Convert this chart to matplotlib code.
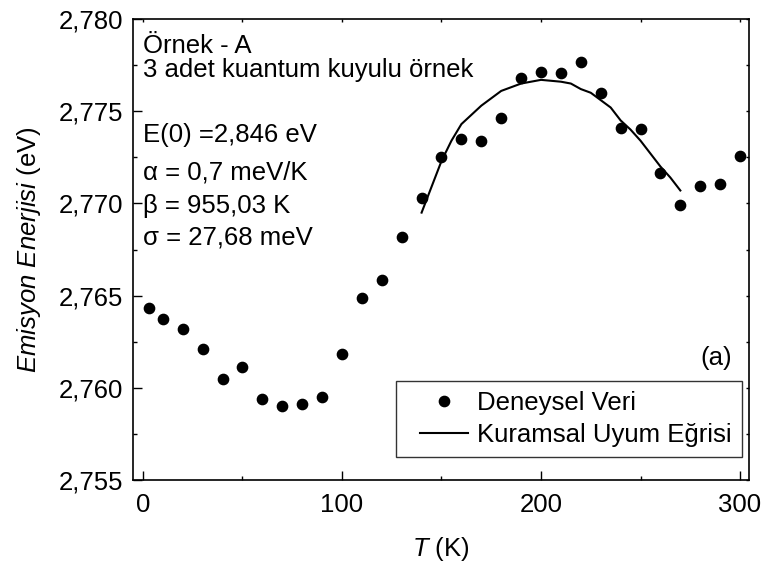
import matplotlib
matplotlib.use("Agg")
import matplotlib.pyplot as plt
from matplotlib.ticker import MultipleLocator
from matplotlib.legend_handler import HandlerLine2D

plt.rcParams['font.family'] = ['Liberation Sans', 'DejaVu Sans']
plt.rcParams['mathtext.fontset'] = 'custom'
plt.rcParams['mathtext.rm'] = 'Liberation Sans'
plt.rcParams['mathtext.it'] = 'Liberation Sans:italic'

# Experimental data (T in K, E in eV)
T_exp = [3, 10, 20, 30, 40, 50, 60, 70, 80, 90, 100, 110, 120, 130, 140, 150,
         160, 170, 180, 190, 200, 210, 220, 230, 240, 250, 260, 270, 280, 290, 300]
E_exp = [2.76434, 2.76371, 2.76317, 2.76209, 2.76049, 2.76111, 2.75938, 2.75901,
         2.75912, 2.75952, 2.76183, 2.76489, 2.76585, 2.76819, 2.77031, 2.77253,
         2.77347, 2.77338, 2.77461, 2.77678, 2.77714, 2.77705, 2.77767, 2.77597,
         2.77411, 2.77405, 2.77163, 2.76991, 2.77096, 2.77105, 2.77259]

# Fit curve
T_fit = [140, 145, 150, 155, 160, 165, 170, 175, 180, 185, 190, 200, 210, 215, 220,
         225, 230, 235, 240, 245, 250, 255, 260, 265, 270]
E_fit = [2.7695, 2.7709, 2.7723, 2.7734, 2.7743, 2.7748, 2.7753, 2.7757, 2.7761,
         2.7763, 2.7765, 2.7767, 2.7766, 2.7765, 2.7762, 2.7760, 2.7756, 2.7752,
         2.7745, 2.7740, 2.7734, 2.7727, 2.7720, 2.7714, 2.7707]

y_ticks = [2.755, 2.760, 2.765, 2.770, 2.775, 2.780]
y_tick_labels = ['2,755', '2,760', '2,765', '2,770', '2,775', '2,780']
x_ticks = [0, 100, 200, 300]
x_tick_labels = ['0', '100', '200', '300']

info_lines = ['Örnek - A', '3 adet kuantum kuyulu örnek', 'E(0) =2,846 eV',
              'α = 0,7 meV/K', 'β = 955,03 K', 'σ = 27,68 meV']

FS = 18.5
fig = plt.figure(figsize=(7.67, 5.70), dpi=100)
ax = fig.add_axes([133/767, 1-480/570, (749-133)/767, (480-19)/570])

ax.plot(T_exp, E_exp, 'o', color='black', markersize=7.4, label='Deneysel Veri')
fit_line, = ax.plot(T_fit, E_fit, '-', color='black', linewidth=1.5,
                    label='Kuramsal Uyum Eğrisi')

ax.set_xlim(-5, 304.5)
ax.set_ylim(2.755, 2.780)
ax.set_xticks(x_ticks)
ax.set_xticklabels(x_tick_labels)
ax.set_yticks(y_ticks)
ax.set_yticklabels(y_tick_labels)
ax.xaxis.set_minor_locator(MultipleLocator(50))
ax.yaxis.set_minor_locator(MultipleLocator(0.0025))
ax.tick_params(which='major', direction='in', length=6.5, width=1.0, labelsize=FS)
ax.tick_params(which='minor', direction='in', length=3, width=1.0)
ax.tick_params(which='both', top=True, right=True)
ax.tick_params(axis='x', which='major', pad=9)
ax.tick_params(axis='y', which='major', pad=7)
for s in ax.spines.values():
    s.set_linewidth(1.2)

ax.set_xlabel(r'$T$ (K)', fontsize=FS, labelpad=13)
ax.set_ylabel(r'$Emisyon\ Enerjisi$ (eV)', fontsize=FS, labelpad=11)

baselines = [0.9256, 0.8748, 0.7338, 0.6508, 0.5785, 0.5098]
for txt, yb in zip(info_lines, baselines):
    ax.text(0.016, yb, txt, transform=ax.transAxes, fontsize=FS, va='baseline', ha='left')

ax.text(0.972, 0.2495, '(a)', transform=ax.transAxes, fontsize=FS, va='baseline', ha='right')

leg = ax.legend(loc='lower right', bbox_to_anchor=(0.9886, 0.0499), borderaxespad=0,
                fontsize=FS, frameon=True, fancybox=False, edgecolor='black',
                handlelength=2.96, handletextpad=-0.2, borderpad=0.4, labelspacing=0.3,
                handler_map={fit_line: HandlerLine2D(numpoints=2, marker_pad=0.55)})
leg.get_frame().set_linewidth(1.0)

fig.canvas.draw()
for t in ax.xaxis.get_major_ticks() + ax.xaxis.get_minor_ticks() + \
        ax.yaxis.get_major_ticks() + ax.yaxis.get_minor_ticks():
    t.tick2line.set_markersize(2.5)

fig.savefig('out.png', dpi=100)
